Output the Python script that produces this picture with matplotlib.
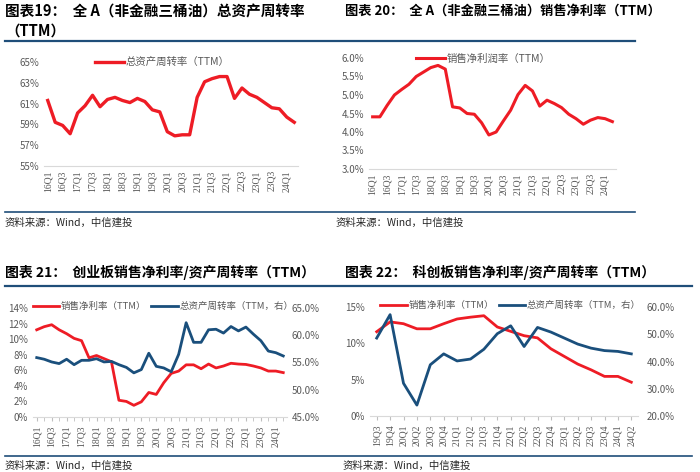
import matplotlib
matplotlib.use('Agg')
import matplotlib.pyplot as plt
from matplotlib.lines import Line2D
from matplotlib.ticker import FuncFormatter

plt.rcParams['font.family'] = ['Noto Sans CJK SC', 'DejaVu Sans']

# quarters 16Q1 .. 24Q2
quarters = ['%02dQ%d' % (y, q) for y in range(16, 25) for q in range(1, 5)][:34]
# quarters 19Q3 .. 24Q2
quarters_star = quarters[14:]

# 图表19 总资产周转率 (%)
turnover_all = [61.3, 59.2, 58.9, 58.1, 60.1, 60.8, 61.8, 60.7, 61.4, 61.6,
                61.3, 61.1, 61.5, 61.2, 60.4, 60.2, 58.3, 57.9, 58.0, 58.0,
                61.6, 63.1, 63.4, 63.6, 63.6, 61.5, 62.5, 61.9, 61.6, 61.1,
                60.6, 60.5, 59.7, 59.2]
# 图表20 销售净利润率 (%)
margin_all = [4.41, 4.41, 4.72, 5.00, 5.15, 5.29, 5.50, 5.62, 5.74, 5.80,
              5.70, 4.68, 4.65, 4.50, 4.48, 4.25, 3.92, 4.00, 4.30, 4.59,
              5.01, 5.26, 5.11, 4.70, 4.86, 4.77, 4.66, 4.48, 4.36, 4.21,
              4.32, 4.39, 4.36, 4.28]
# 图表21 创业板
margin_gem = [11.2, 11.6, 11.85, 11.2, 10.7, 10.1, 9.8, 7.6, 7.9, 7.5,
              7.1, 2.15, 2.0, 1.5, 1.95, 3.15, 2.9, 4.4, 5.6, 5.9,
              6.7, 6.7, 6.2, 6.8, 6.3, 6.55, 6.9, 6.8, 6.75, 6.55,
              6.3, 5.9, 5.9, 5.7]
turnover_gem = [55.9, 55.6, 55.1, 54.8, 55.6, 54.6, 55.4, 55.4, 55.7, 55.1,
                55.2, 54.6, 54.1, 53.1, 53.7, 56.7, 54.3, 54.0, 53.3, 56.5,
                62.3, 58.7, 58.7, 61.0, 61.1, 60.4, 61.6, 60.8, 61.5, 60.2,
                59.0, 57.1, 56.8, 56.2]
# 图表22 科创板
margin_star = [11.6, 12.95, 12.7, 12.0, 12.0, 12.7, 13.35, 13.6, 13.8, 12.25,
               11.65, 11.05, 10.75, 9.25, 8.2, 7.15, 6.35, 5.45, 5.45, 4.65]
turnover_star = [48.6, 57.2, 32.0, 24.0, 38.8, 42.8, 40.2, 40.9, 44.5, 50.2,
                 53.1, 45.5, 52.5, 50.8, 48.6, 46.4, 44.9, 44.0, 43.7, 42.8]

RED = '#EE1C25'
BLUE = '#1A4F7C'
GRAY = '#595959'
NAVY = '#1F4E79'
W, H = 700, 472

fig = plt.figure(figsize=(7, 4.72), dpi=100)


def box(x0, y0, x1, y1):
    return [x0 / W, 1 - y1 / H, (x1 - x0) / W, (y1 - y0) / H]


def hline(x0, x1, y, lw):
    fig.add_artist(Line2D([x0 / W, x1 / W], [1 - y / H, 1 - y / H],
                          color=NAVY, lw=lw))


def text(x, y, s, **kw):
    fig.text(x / W, 1 - y / H, s, va='center', ha='left', **kw)


def style(ax, labels, step, ticks=False):
    for sp in ['top', 'right', 'left']:
        ax.spines[sp].set_visible(False)
    ax.spines['bottom'].set_color('#D9D9D9')
    ax.set_xlim(-0.5, len(labels) - 0.5)
    ax.set_xticks(range(0, len(labels), step))
    ax.set_xticklabels(labels[::step], rotation=90, fontsize=7,
                       color=GRAY, family='Liberation Serif')
    ax.tick_params(axis='y', length=0, labelsize=7, labelcolor=GRAY)
    ax.tick_params(axis='x', length=3 if ticks else 0, color='#BFBFBF',
                   pad=3)
    if ticks:
        ax.set_xticks(range(len(labels)), minor=True)
        ax.tick_params(axis='x', which='minor', length=3, color='#BFBFBF')


pct0 = FuncFormatter(lambda v, p: '%d%%' % round(v))
pct1 = FuncFormatter(lambda v, p: '%.1f%%' % v)
lkw = dict(frameon=False, labelcolor=GRAY, borderpad=0)

# ---- 图表19
ax = fig.add_axes(box(44, 62, 298, 166))
ax.plot(range(len(turnover_all)), turnover_all, color=RED, lw=2.4,
        label='总资产周转率（TTM）')
ax.set_ylim(55, 65)
ax.set_yticks(range(55, 66, 2))
ax.yaxis.set_major_formatter(pct0)
style(ax, quarters, 2)
ax.legend(loc='lower left', bbox_to_anchor=(0.18, 0.9), fontsize=7.5,
          handlelength=2.8, handletextpad=0.1, **lkw)

# ---- 图表20
ax = fig.add_axes(box(369, 58, 616, 169))
ax.plot(range(len(margin_all)), margin_all, color=RED, lw=2.2,
        label='销售净利润率（TTM）')
ax.set_ylim(3.0, 6.0)
ax.set_yticks([3.0, 3.5, 4.0, 4.5, 5.0, 5.5, 6.0])
ax.yaxis.set_major_formatter(pct1)
style(ax, quarters, 2)
ax.legend(loc='lower left', bbox_to_anchor=(0.17, 0.9), fontsize=7.5,
          handlelength=2.8, handletextpad=0.1, **lkw)

# ---- 图表21
ax = fig.add_axes(box(33, 308, 287, 417))
l1, = ax.plot(range(len(margin_gem)), margin_gem, color=RED, lw=2.0)
ax.set_ylim(0, 14)
ax.set_yticks(range(0, 15, 2))
ax.yaxis.set_major_formatter(pct0)
style(ax, quarters, 2, ticks=True)
ax2 = ax.twinx()
l2, = ax2.plot(range(len(turnover_gem)), turnover_gem, color=BLUE, lw=2.0)
ax2.set_ylim(45, 65)
ax2.set_yticks(range(45, 66, 5))
ax2.yaxis.set_major_formatter(pct1)
for sp in ax2.spines.values():
    sp.set_visible(False)
ax2.tick_params(axis='y', length=0, labelsize=7, labelcolor=GRAY)
ax.legend([l1, l2], ['销售净利率（TTM）', '总资产周转率（TTM，右）'],
          loc='lower left', bbox_to_anchor=(-0.02, 0.93), ncol=2,
          fontsize=6.8, handlelength=2.8, handletextpad=0.2,
          columnspacing=0.5, **lkw)

# ---- 图表22
ax = fig.add_axes(box(370, 307, 638, 416))
l1, = ax.plot(range(len(margin_star)), margin_star, color=RED, lw=2.0)
ax.set_ylim(0, 15)
ax.set_yticks([0, 5, 10, 15])
ax.yaxis.set_major_formatter(pct0)
style(ax, quarters_star, 1, ticks=True)
ax2 = ax.twinx()
l2, = ax2.plot(range(len(turnover_star)), turnover_star, color=BLUE, lw=2.0)
ax2.set_ylim(20, 60)
ax2.set_yticks(range(20, 61, 10))
ax2.yaxis.set_major_formatter(pct1)
for sp in ax2.spines.values():
    sp.set_visible(False)
ax2.tick_params(axis='y', length=0, labelsize=7, labelcolor=GRAY, pad=6)
ax.legend([l1, l2], ['销售净利率（TTM）', '总资产周转率（TTM，右）'],
          loc='lower left', bbox_to_anchor=(0.02, 0.93), ncol=2,
          fontsize=6.8, handlelength=2.8, handletextpad=0.2,
          columnspacing=0.5, **lkw)

# ---- titles, rules, sources
tkw = dict(fontweight='bold', color='black')
text(5, 11, '图表19：  全 A（非金融三桶油）总资产周转率', fontsize=10.5, **tkw)
text(5, 31, '（TTM）', fontsize=10.5, **tkw)
text(345, 11, '图表 20：  全 A（非金融三桶油）销售净利率（TTM）',
     fontsize=9.5, **tkw)
text(5, 272, '图表 21：  创业板销售净利率/资产周转率（TTM）', fontsize=10, **tkw)
text(345, 272, '图表 22：  科创板销售净利率/资产周转率（TTM）', fontsize=10, **tkw)

hline(5, 635, 41, 1.6)
hline(5, 635, 212, 1.2)
hline(5, 692, 286, 1.6)
hline(5, 692, 456, 1.2)

skw = dict(fontsize=7.5, style='italic', color='#262626')
text(5, 223, '资料来源：Wind，中信建投', **skw)
text(336, 223, '资料来源：Wind，中信建投', **skw)
text(5, 466, '资料来源：Wind，中信建投', **skw)
text(343, 466, '资料来源：Wind，中信建投', **skw)

fig.savefig('out.png', dpi=100)
